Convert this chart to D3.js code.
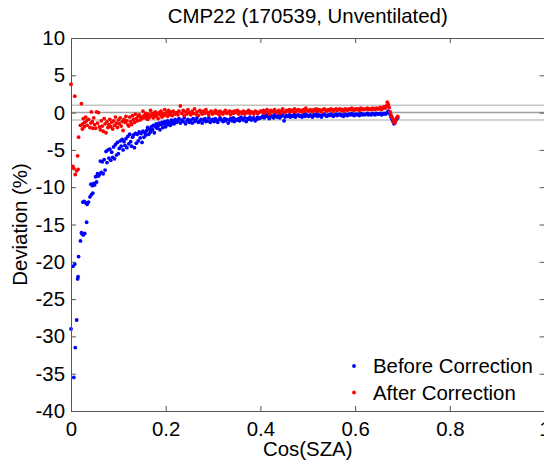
<!DOCTYPE html>
<html>
<head>
<meta charset="utf-8">
<script src="https://cdn.jsdelivr.net/npm/d3@7"></script>
<style>
  body { margin: 0; background: #fff; }
  svg { display: block; font-family: "Liberation Sans", Arial, sans-serif; }
</style>
</head>
<body>
<svg id="chart" width="544" height="462"></svg>
<script>
// cos(SZA) of each reading, shared by both series
var cosSZA = [
  0.000, 0.004, 0.006, 0.008, 0.009, 0.012, 0.014, 0.015, 0.016, 0.020, 0.022, 0.024, 0.025, 0.026, 0.028, 0.029, 0.031, 0.033, 0.034, 0.037, 0.040, 0.042, 0.043, 0.045, 0.046, 0.048, 0.050,
  0.052, 0.054, 0.056, 0.058, 0.060, 0.062, 0.064, 0.066, 0.068, 0.070, 0.072, 0.074, 0.076, 0.078, 0.080, 0.082, 0.084, 0.086, 0.088, 0.090, 0.092, 0.094, 0.096, 0.098, 0.100, 0.102, 0.104, 0.106, 0.108, 0.110, 0.112, 0.114, 0.116, 0.118, 0.120,
  0.122, 0.124, 0.126, 0.128, 0.130, 0.132, 0.134, 0.136, 0.138, 0.140, 0.142, 0.144, 0.146, 0.148, 0.150, 0.152, 0.154, 0.156, 0.158, 0.160, 0.162, 0.164, 0.166, 0.168, 0.170, 0.172, 0.174, 0.176, 0.178, 0.180, 0.182, 0.184, 0.186, 0.188, 0.190, 0.192, 0.194, 0.196, 0.198, 0.200, 0.202, 0.204, 0.206, 0.208, 0.210, 0.212, 0.214, 0.216, 0.218, 0.220,
  0.223, 0.226, 0.228, 0.231, 0.234, 0.237, 0.239, 0.242, 0.245, 0.247, 0.250, 0.253, 0.256, 0.258, 0.261, 0.264, 0.266, 0.269, 0.272, 0.275, 0.277, 0.280, 0.283, 0.285, 0.288, 0.291, 0.294, 0.296, 0.299, 0.302, 0.305, 0.307, 0.310, 0.313, 0.315, 0.318, 0.321, 0.324, 0.326, 0.329, 0.332, 0.335, 0.337, 0.340, 0.343, 0.345, 0.348, 0.351, 0.354, 0.356, 0.359, 0.362, 0.364, 0.367, 0.370, 0.373, 0.375, 0.378, 0.381, 0.384, 0.386, 0.389, 0.392, 0.394, 0.397, 0.400,
  0.403, 0.406, 0.408, 0.411, 0.414, 0.417, 0.419, 0.422, 0.425, 0.428, 0.430, 0.433, 0.436, 0.439, 0.441, 0.444, 0.447, 0.450, 0.452, 0.455, 0.458, 0.461, 0.463, 0.466, 0.469, 0.472, 0.474, 0.477, 0.480, 0.483, 0.485, 0.488, 0.491, 0.494, 0.496, 0.499, 0.502, 0.505, 0.507, 0.510, 0.513, 0.516, 0.518, 0.521, 0.524, 0.527, 0.529, 0.532, 0.535, 0.538, 0.540, 0.543, 0.546, 0.549, 0.551, 0.554, 0.557, 0.560, 0.562, 0.565, 0.568, 0.571, 0.573, 0.576, 0.579, 0.582, 0.584, 0.587, 0.590, 0.593, 0.595, 0.598, 0.601, 0.604, 0.606, 0.609, 0.612, 0.615, 0.617, 0.620, 0.623, 0.626, 0.628, 0.631, 0.634, 0.637, 0.639, 0.642, 0.645, 0.648, 0.650, 0.653, 0.656, 0.659, 0.661, 0.664,
  0.666, 0.668, 0.670, 0.672, 0.674, 0.676, 0.678, 0.680, 0.682, 0.684, 0.686, 0.688, 0.690
];

// deviation (%) before correction
var beforeCorrection = [
  -29.0, -20.6, -35.5, -20.3, -31.5, -27.8, -22.3, -22.0, -19.3, -17.2, -16.1, -16.3, -12.0, -16.4, -11.9, -16.2, -12.1, -14.7, -12.3, -12.0, -11.3, -9.6, -11.0, -9.8, -10.8, -9.5, -9.7,
  -8.6, -9.3, -8.2, -8.5, -8.3, -6.5, -8.0, -6.6, -8.2, -6.3, -7.7, -5.2, -6.7, -5.0, -6.1, -4.9, -6.4, -5.3, -6.0, -4.6, -6.2, -4.3, -5.7, -4.0, -5.5, -4.8, -3.8, -4.5, -3.6, -5.0, -3.9, -4.4, -3.5, -4.7, -3.2,
  -4.2, -2.9, -3.9, -4.5, -3.3, -3.0, -4.7, -2.8, -4.1, -2.9, -3.8, -2.6, -3.4, -2.8, -4.0, -2.5, -3.3, -2.7, -3.0, -2.4, -2.0, -2.9, -2.2, -2.6, -1.9, -2.3, -1.7, -2.7, -1.9, -1.5, -2.1, -1.8, -1.4, -2.3, -1.6, -1.3, -2.0, -1.5, -1.2, -1.9, -1.4, -1.1, -1.6, -1.3, -1.7, -1.0, -1.4, -1.2, -1.5, -0.9,
  -1.3, -1.1, -0.8, -1.4, -1.0, -1.2, -0.7, -1.5, -1.1, -0.9, -1.3, -1.0, -1.4, -0.8, -1.2, -1.0, -0.7, -1.3, -1.1, -0.9, -1.4, -1.0, -0.8, -1.2, -1.1, -0.7, -1.3, -1.0, -0.9, -1.2, -0.8, -1.1, -1.3, -0.9, -0.7, -1.0, -1.2, -0.8, -1.1, -0.9, -1.4, -1.0, -0.8, -1.1, -0.7, -1.2, -0.9, -1.0, -0.8, -1.1, -0.6, -0.9, -1.0, -0.7, -1.2, -0.8, -0.9, -0.6, -1.0, -0.8, -0.7, -1.1, -0.9, -0.6, -0.8, -0.7,
  -0.6, -0.4, -0.7, -0.5, -0.3, -0.6, -0.8, -0.4, -0.5, -0.7, -0.3, -0.5, -0.6, -0.4, -0.7, -0.5, -0.3, -1.1, -0.6, -0.4, -0.5, -0.3, -0.6, -0.4, -0.5, -0.2, -0.6, -0.4, -0.3, -0.5, -0.4, -0.6, -0.3, -0.5, -0.2, -0.4, -0.5, -0.3, -0.4, -0.6, -0.3, -0.4, -0.2, -0.5, -0.3, -0.4, -0.6, -0.3, -0.2, -0.4, -0.5, -0.3, -0.4, -0.2, -0.3, -0.5, -0.3, -0.2, -0.4, -0.3, -0.2, -0.4, -0.3, -0.5, -0.2, -0.3, -0.4, -0.2, -0.3, -0.1, -0.3, -0.4, -0.2, -0.3, -0.2, -0.4, -0.1, -0.3, -0.2, -0.3, -0.2, -0.1, -0.3, -0.2, -0.3, -0.1, -0.2, -0.3, -0.1, -0.2, -0.2, -0.1, -0.3, -0.2, -0.1, -0.2,
  -0.1, 0.0, 0.2, 0.1, -0.3, -0.6, -0.9, -1.2, -1.5, -1.3, -1.0, -0.8, -0.7
];

// deviation (%) after correction
var afterCorrection = [
  3.8, -7.2, -7.5, 2.2, -8.3, -7.8, -5.8, -7.6, -3.3, -1.7, 1.2, -2.2, -1.5, -0.8, -1.9, -1.3, -0.6, -1.1, -1.7, -0.9, -2.0, -1.4, 0.1, -1.2, -2.1, -0.7, -1.6,
  -2.1, 0.1, -1.4, 0.0, -1.9, -2.3, -1.1, -1.8, -2.5, -0.8, -1.5, -2.7, -1.2, -2.0, -1.6, -0.9, -1.9, -1.3, -2.2, -1.1, -1.7, -0.6, -1.4, -2.0, -1.0, -1.5, -0.7, -1.8, -1.2, -2.4, -0.9, -1.3, -0.5, -1.1, -1.6,
  -1.8, -0.6, -1.2, -1.6, -0.4, -0.9, -1.3, -0.2, -0.8, -1.1, -0.5, -0.3, -1.0, -0.6, -0.8, 0.2, -0.4, -0.7, -0.1, -0.5, -0.9, -0.2, -0.6, 0.3, -0.4, -0.1, -0.7, -0.3, 0.1, -0.5, -0.2, -0.8, 0.0, -0.3, 0.2, -0.6, -0.1, -0.4, 0.4, -0.2, 0.0, -0.5, 0.3, -0.1, -0.3, 0.1, -0.4, 0.2, 0.0, -0.2,
  0.0, -0.3, 0.2, 0.9, -0.1, 0.3, -0.4, 0.1, -0.2, 0.4, 0.0, -0.3, 0.2, -0.1, 0.5, -0.2, 0.1, -0.4, 0.3, 0.0, -0.2, 0.2, -0.1, 0.4, 0.0, -0.3, 0.1, 0.2, -0.2, 0.0, 0.3, -0.1, 0.1, -0.3, 0.2, 0.0, -0.2, 0.1, 0.3, -0.1, 0.0, 0.2, -0.3, 0.1, -0.1, 0.2, 0.0, 0.3, -0.2, 0.1, 0.0, -0.1, 0.2, -0.2, 0.1, 0.0, 0.3, -0.1, 0.1, 0.0, -0.2, 0.2, 0.1, -0.1, 0.0, 0.2,
  0.1, 0.3, -0.1, 0.2, 0.4, 0.0, -0.2, 0.3, 0.1, 0.2, 0.4, 0.1, 0.0, 0.3, -0.1, 0.2, 0.5, 0.1, 0.0, 0.3, 0.2, 0.4, 0.1, 0.3, 0.2, 0.5, 0.1, 0.3, 0.4, 0.2, 0.3, 0.1, 0.4, 0.2, 0.6, 0.3, 0.2, 0.4, 0.3, 0.1, 0.4, 0.3, 0.5, 0.2, 0.4, 0.3, 0.1, 0.4, 0.5, 0.3, 0.2, 0.4, 0.3, 0.5, 0.4, 0.2, 0.4, 0.5, 0.3, 0.4, 0.5, 0.3, 0.4, 0.2, 0.5, 0.4, 0.3, 0.5, 0.4, 0.6, 0.4, 0.3, 0.5, 0.4, 0.5, 0.3, 0.6, 0.4, 0.5, 0.4, 0.5, 0.6, 0.4, 0.5, 0.4, 0.6, 0.5, 0.4, 0.6, 0.5, 0.5, 0.7, 0.4, 0.6, 0.8, 0.6,
  0.9, 1.4, 1.1, 0.7, 0.1, -0.3, -0.6, -0.9, -1.3, -1.4, -1.0, -0.7, -0.5
];

var xTicks = [0, 0.2, 0.4, 0.6, 0.8, 1];
var yTicks = [10, 5, 0, -5, -10, -15, -20, -25, -30, -35, -40];
var refLines = [1, 0, -1];
var seriesNames = ["Before Correction", "After Correction"];
var seriesColors = ["#0000ff", "#ff0000"];

if (beforeCorrection.length != cosSZA.length || afterCorrection.length != cosSZA.length) {
    throw new Error("length mismatch " + cosSZA.length + " " + beforeCorrection.length + " " + afterCorrection.length);
}

var svg = d3.select("#chart");
var margin = { left: 71, right: 0, top: 38, bottom: 51 };
var width = 544, height = 462;
var markerR = 1.9;

var x = d3.scaleLinear().domain([0, 1]).range([margin.left, width + 0.5]);
var y = d3.scaleLinear().domain([-40, 10]).range([height - margin.bottom, margin.top]);

// reference lines at +-1 and 0
svg.append("g").selectAll("line")
    .data(refLines)
    .enter()
    .append("line")
    .attr("x1", x(0)).attr("x2", x(1))
    .attr("y1", function (d) { return y(d) }).attr("y2", function (d) { return y(d) })
    .attr("stroke", function (d) { return d == 0 ? "#a0a0a0" : "#c4c4c4" })
    .attr("stroke-width", 1.5);

// markers
var points = cosSZA.map(function (c, i) {
    return { x: c, before: beforeCorrection[i], after: afterCorrection[i] };
});

svg.append("g").selectAll("circle")
    .data(points)
    .enter()
    .append("circle")
    .attr("cx", function (d) { return x(d.x) })
    .attr("cy", function (d) { return y(d.before) })
    .attr("r", markerR)
    .attr("fill", seriesColors[0]);

svg.append("g").selectAll("circle")
    .data(points)
    .enter()
    .append("circle")
    .attr("cx", function (d) { return x(d.x) })
    .attr("cy", function (d) { return y(d.after) })
    .attr("r", markerR)
    .attr("fill", seriesColors[1]);

// axes box with inward ticks
var axisColor = "#555";
var fontSize = "20.4px";

var axisBottomG = svg.append("g")
    .attr("transform", "translate(0," + y(-40) + ")")
    .call(d3.axisBottom(x).tickValues(xTicks).tickSizeInner(-5).tickSizeOuter(0).tickPadding(11)
        .tickFormat(function (d) { return d == 0 || d == 1 ? String(d) : d.toFixed(1) }));
var axisTopG = svg.append("g")
    .attr("transform", "translate(0," + y(10) + ")")
    .call(d3.axisTop(x).tickValues(xTicks).tickSizeInner(-5).tickSizeOuter(0).tickFormat(""));
var axisLeftG = svg.append("g")
    .attr("transform", "translate(" + x(0) + ",0)")
    .call(d3.axisLeft(y).tickValues(yTicks).tickSizeInner(-5).tickSizeOuter(0).tickPadding(6)
        .tickFormat(function (d) { return String(d) }));
var axisRightG = svg.append("g")
    .attr("transform", "translate(" + x(1) + ",0)")
    .call(d3.axisRight(y).tickValues(yTicks).tickSizeInner(-5).tickSizeOuter(0).tickFormat(""));

[axisBottomG, axisTopG, axisLeftG, axisRightG].forEach(function (g) {
    g.select(".domain").attr("stroke", axisColor);
    g.selectAll(".tick line").attr("stroke", axisColor);
    g.selectAll(".tick text").attr("fill", "#000").style("font-size", fontSize)
        .style("font-family", "'Liberation Sans', Arial, sans-serif");
});

// title and axis labels
svg.append("text")
    .attr("x", (x(0) + x(1)) / 2).attr("y", 23)
    .attr("text-anchor", "middle")
    .style("font-size", fontSize)
    .text("CMP22 (170539, Unventilated)");

svg.append("text")
    .attr("x", (x(0) + x(1)) / 2).attr("y", 456)
    .attr("text-anchor", "middle")
    .style("font-size", fontSize)
    .text("Cos(SZA)");

svg.append("text")
    .attr("transform", "translate(27," + (y(-40) + y(10)) / 2 + ") rotate(-90)")
    .attr("text-anchor", "middle")
    .style("font-size", fontSize)
    .text("Deviation (%)");

// legend, no box
var legend = svg.append("g");
seriesNames.forEach(function (name, i) {
    legend.append("circle")
        .attr("cx", 354).attr("cy", 366 + i * 26.5)
        .attr("r", markerR)
        .attr("fill", seriesColors[i]);
    legend.append("text")
        .attr("x", 373).attr("y", 373 + i * 26.5)
        .style("font-size", fontSize)
        .text(name);
});
</script>
</body>
</html>
